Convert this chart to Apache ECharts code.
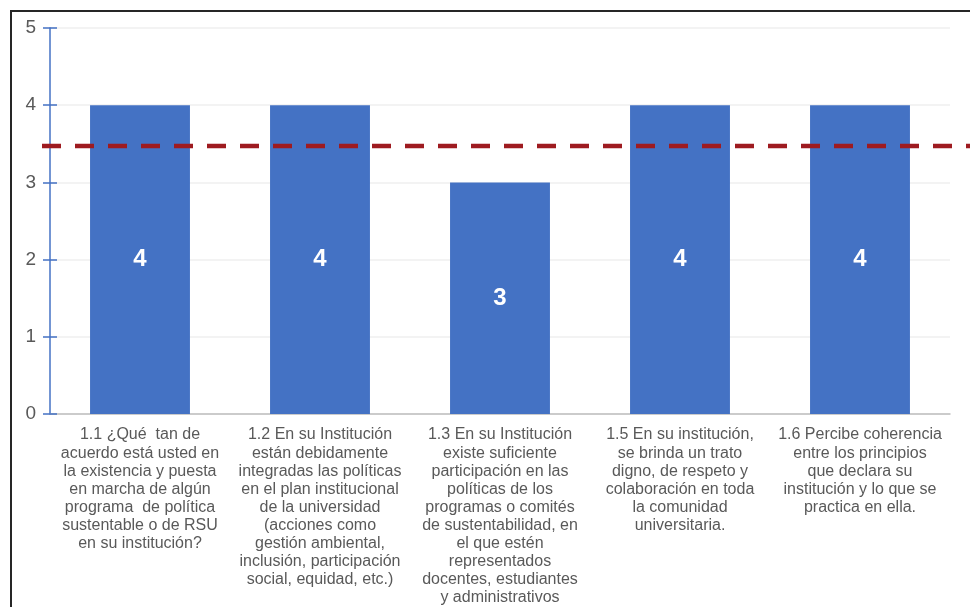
<!DOCTYPE html>
<html><head><meta charset="utf-8">
<script src="https://cdn.jsdelivr.net/npm/echarts@6/dist/echarts.min.js"></script>
<style>html,body{margin:0;padding:0;background:#fff}#c{width:970px;height:607px}</style>
</head><body><div id="c"></div>
<script>
const categories = [
  "1.1 ¿Qué  tan de\nacuerdo está usted en\nla existencia y puesta\nen marcha de algún\nprograma  de política\nsustentable o de RSU\nen su institución?",
  "1.2 En su Institución\nestán debidamente\nintegradas las políticas\nen el plan institucional\nde la universidad\n(acciones como\ngestión ambiental,\ninclusión, participación\nsocial, equidad, etc.)",
  "1.3 En su Institución\nexiste suficiente\nparticipación en las\npolíticas de los\nprogramas o comités\nde sustentabilidad, en\nel que estén\nrepresentados\ndocentes, estudiantes\ny administrativos",
  "1.5 En su institución,\nse brinda un trato\ndigno, de respeto y\ncolaboración en toda\nla comunidad\nuniversitaria.",
  "1.6 Percibe coherencia\nentre los principios\nque declara su\ninstitución y lo que se\npractica en ella."
];
const values = [4, 4, 3, 4, 4];
const referenceValue = 3.47;
const yTicks = [0, 1, 2, 3, 4, 5];

const chart = echarts.init(document.getElementById('c'));
const font = 'Liberation Sans, Arial, sans-serif';
chart.setOption({
  animation: false,
  graphic: [{
    type: 'rect', shape: {x: 11, y: 11, width: 1000, height: 700},
    style: {fill: 'none', stroke: '#262626', lineWidth: 2}, silent: true, z: 0
  }],
  grid: [
    {left: 50, right: 20, top: 28, bottom: 193},
    {left: 42, right: 0, top: 28, bottom: 193}
  ],
  xAxis: [
    {
      type: 'category', data: categories, gridIndex: 0,
      axisLine: {lineStyle: {color: '#BFBFBF', width: 1.5}},
      axisTick: {show: false},
      axisLabel: {
        interval: 0, margin: 12, color: '#595959', fontFamily: font,
        fontSize: 16, lineHeight: 18.1, align: 'center'
      }
    },
    {type: 'value', gridIndex: 1, min: 0, max: 1, show: false}
  ],
  yAxis: [
    {
      type: 'value', gridIndex: 0, min: yTicks[0], max: yTicks[yTicks.length - 1], interval: 1,
      axisLine: {show: true, lineStyle: {color: '#4472C4', width: 1.5}},
      axisTick: {show: true, length: 7, lineStyle: {color: '#4472C4', width: 1.5}},
      splitLine: {show: true, lineStyle: {color: '#EFEFEF', width: 1.5}},
      axisLabel: {color: '#595959', fontFamily: font, fontSize: 19, margin: 14}
    },
    {
      type: 'value', gridIndex: 0, min: yTicks[0], max: yTicks[yTicks.length - 1], interval: 1,
      position: 'left',
      axisLine: {show: false},
      axisTick: {show: true, inside: true, length: 7, lineStyle: {color: '#4472C4', width: 1.5}},
      splitLine: {show: false}, axisLabel: {show: false}
    },
    {type: 'value', gridIndex: 1, min: 0, max: 5, show: false}
  ],
  series: [
    {
      type: 'bar', data: values, xAxisIndex: 0, yAxisIndex: 0,
      barWidth: '55.5%',
      itemStyle: {color: '#4472C4'},
      label: {
        show: true, position: 'inside', color: '#FFFFFF', fontFamily: font,
        fontWeight: 'bold', fontSize: 24
      },
      z: 2
    },
    {
      type: 'line', xAxisIndex: 1, yAxisIndex: 2,
      data: [[0, referenceValue], [1, referenceValue]],
      symbol: 'none',
      lineStyle: {color: '#9E1B20', width: 4.5, type: [19, 14]},
      z: 5, silent: true
    }
  ]
});
</script>
</body></html>
